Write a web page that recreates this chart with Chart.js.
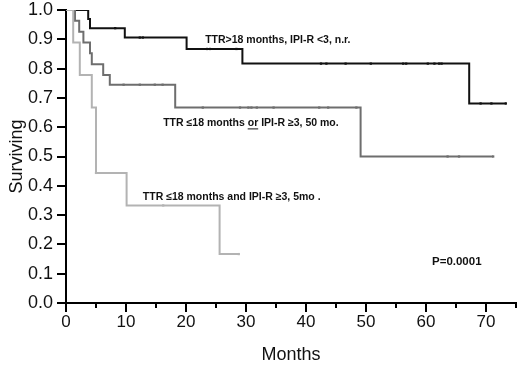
<!DOCTYPE html>
<html>
<head>
<meta charset="utf-8">
<script src="https://cdn.jsdelivr.net/npm/chart.js@4.4.1/dist/chart.umd.min.js"></script>
<style>
  html, body { margin: 0; padding: 0; background: #fff; }
  #wrap { width: 520px; height: 366px; }
</style>
</head>
<body>
<div id="wrap"><canvas id="kmChart" width="520" height="366"></canvas></div>
<script>
// Kaplan-Meier curves (months, survival after each event)
const lowTimes = [0, 3.7, 4.0, 9.8, 20.1, 29.4, 67.2, 73.4];
const lowSurv = [1.0, 0.969, 0.938, 0.906, 0.867, 0.817, 0.681, 0.681];
const lowCensor = [8.2, 12.3, 12.8, 23.5, 24.0, 28.4, 42.5, 43.4, 46.6, 50.8, 56.2, 56.7, 60.3, 61.4, 62.2, 62.6, 69.1, 70.9, 73.3];

const midTimes = [0, 1.5, 2.2, 2.9, 4.0, 4.3, 6.2, 7.3, 18.2, 49.1, 71.2];
const midSurv = [1.0, 0.963, 0.926, 0.889, 0.852, 0.815, 0.778, 0.745, 0.667, 0.5, 0.5];
const midCensor = [9.6, 12.3, 14.8, 16.1, 22.8, 29.0, 30.4, 30.9, 31.8, 34.6, 42.2, 43.7, 48.4, 63.6, 65.5, 71.2];

const highTimes = [0, 1.2, 2.3, 4.3, 5.0, 10.1, 25.6, 28.8];
const highSurv = [1.0, 0.889, 0.778, 0.667, 0.444, 0.333, 0.167, 0.167];
const highCensor = [5.0, 16.2, 28.8];

const xTicks = [0, 10, 20, 30, 40, 50, 60, 70];

// text placed in data units
const notes = [
  { text: "TTR>18 months, IPI-R <3, n.r.", x: 23.2, y: 0.898 },
  { text: "TTR \u226418 months or IPI-R \u22653, 50 mo.", x: 16.2, y: 0.613, underline: "or" },
  { text: "TTR \u226418 months and IPI-R \u22653, 5mo .", x: 12.8, y: 0.362 },
  { text: "P=0.0001", x: 61, y: 0.142, size: 11.5 }
];

const BLACK = "#111111";
const DARK = "#6e6e6e";
const LIGHT = "#b3b3b3";

const toPoints = (xs, ys) => xs.map((x, i) => ({ x: x, y: ys[i] }));

// survival value at time t for a step curve
const survAt = (xs, ys, t) => {
  let s = ys[0];
  xs.forEach((x, i) => { if (x <= t) s = ys[i]; });
  return s;
};

const censorPoints = (cs, xs, ys) => cs.map(t => ({ x: t, y: survAt(xs, ys, t) }));

const curve = (xs, ys, color) => ({
  type: "line",
  data: toPoints(xs, ys),
  stepped: "before",
  borderColor: color,
  borderWidth: 2,
  pointRadius: 0,
  fill: false
});

const marks = (cs, xs, ys, color) => ({
  type: "scatter",
  data: censorPoints(cs, xs, ys),
  pointStyle: "rect",
  pointRadius: 1.6,
  backgroundColor: color,
  borderColor: color,
  borderWidth: 0
});

// axis tick marks and annotation text
const decor = {
  id: "decor",
  afterDraw(chart) {
    const ctx = chart.ctx;
    const xs = chart.scales.x;
    const ys = chart.scales.y;
    ctx.save();
    ctx.strokeStyle = "#000";
    ctx.lineWidth = 2;
    for (let v = 0; v <= 75; v += 5) {
      const px = Math.round(xs.getPixelForValue(v));
      const len = v % 10 === 0 ? 9 : 5;
      ctx.beginPath();
      ctx.moveTo(px, ys.bottom);
      ctx.lineTo(px, ys.bottom + len);
      ctx.stroke();
    }
    for (let i = 0; i <= 10; i++) {
      const py = Math.round(ys.getPixelForValue(i / 10));
      ctx.beginPath();
      ctx.moveTo(xs.left, py);
      ctx.lineTo(xs.left - 9, py);
      ctx.stroke();
    }
    ctx.fillStyle = "#111";
    ctx.textBaseline = "middle";
    ctx.textAlign = "left";
    notes.forEach(n => {
      const size = n.size || 10.5;
      ctx.font = "bold " + size + "px 'Liberation Sans', Arial, sans-serif";
      const px = xs.getPixelForValue(n.x);
      const py = ys.getPixelForValue(n.y);
      ctx.fillText(n.text, px, py);
      if (n.underline) {
        const idx = n.text.indexOf(" " + n.underline + " ") + 1;
        const start = px + ctx.measureText(n.text.slice(0, idx)).width;
        const w = ctx.measureText(n.underline).width;
        ctx.lineWidth = 1;
        ctx.strokeStyle = "#111";
        ctx.beginPath();
        ctx.moveTo(start, py + 5.5);
        ctx.lineTo(start + w, py + 5.5);
        ctx.stroke();
      }
    });
    ctx.restore();
  }
};

new Chart(document.getElementById("kmChart"), {
  data: {
    datasets: [
      curve(highTimes, highSurv, LIGHT),
      curve(midTimes, midSurv, DARK),
      curve(lowTimes, lowSurv, BLACK),
      marks(highCensor, highTimes, highSurv, LIGHT),
      marks(midCensor, midTimes, midSurv, DARK),
      marks(lowCensor, lowTimes, lowSurv, BLACK)
    ]
  },
  options: {
    responsive: false,
    animation: false,
    layout: { padding: { top: 10, right: 4, left: 0, bottom: 0 } },
    plugins: { legend: { display: false }, tooltip: { enabled: false } },
    scales: {
      x: {
        type: "linear",
        min: 0,
        max: 75,
        afterBuildTicks: scale => { scale.ticks = xTicks.map(v => ({ value: v })); },
        grid: { display: false, drawTicks: false },
        border: { display: true, color: "#000", width: 2 },
        ticks: {
          color: "#111",
          padding: 9,
          maxRotation: 0,
          font: { family: "'Liberation Sans', Arial, sans-serif", size: 17 }
        },
        title: {
          display: true,
          text: "Months",
          color: "#111",
          padding: { top: 4, bottom: 0 },
          font: { family: "'Liberation Sans', Arial, sans-serif", size: 18 }
        },
        afterFit: scale => {
          scale.height = 63;
          scale.paddingLeft = 0;
          scale.paddingRight = 0;
        }
      },
      y: {
        min: 0,
        max: 1,
        ticks: {
          stepSize: 0.1,
          color: "#111",
          padding: 13,
          callback: v => v.toFixed(1),
          font: { family: "'Liberation Sans', Arial, sans-serif", size: 18 }
        },
        grid: { display: false, drawTicks: false },
        border: { display: true, color: "#000", width: 2 },
        title: {
          display: true,
          text: "Surviving",
          color: "#111",
          padding: { top: 6, bottom: 0 },
          font: { family: "'Liberation Sans', Arial, sans-serif", size: 18 }
        },
        afterFit: scale => {
          scale.width = 66;
          scale.paddingTop = 0;
          scale.paddingBottom = 0;
        }
      }
    }
  },
  plugins: [decor]
});
</script>
</body>
</html>
